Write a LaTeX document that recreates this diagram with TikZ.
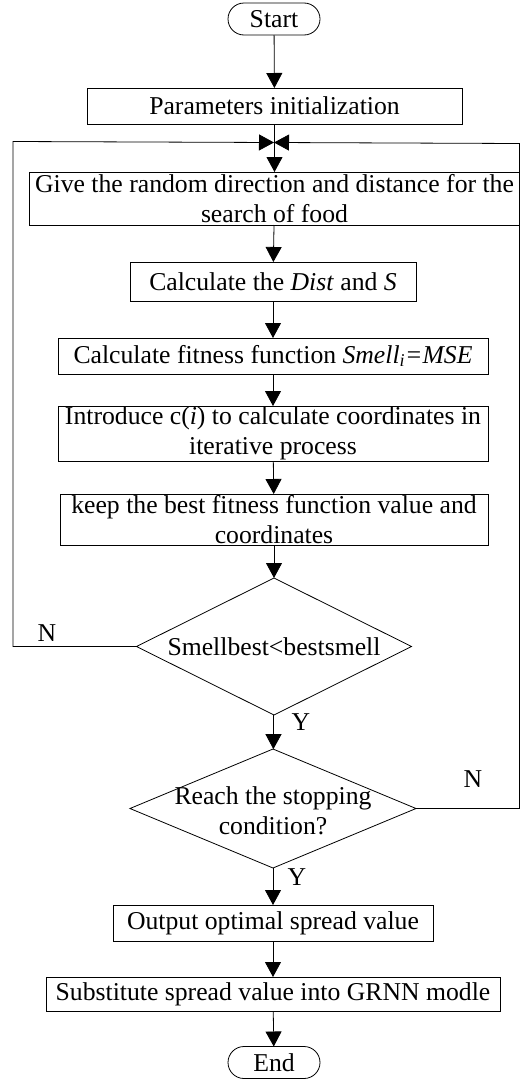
\documentclass[tikz,border=0pt]{standalone}
\usepackage{fontspec}
\setmainfont{Liberation Serif}
\usetikzlibrary{shapes.geometric,arrows.meta}

\tikzset{
  box/.style={draw,rectangle,inner sep=0pt,outer sep=0pt,align=center},
  term/.style={draw,rectangle,rounded corners=16pt,inner sep=0pt,outer sep=0pt,
    minimum width=92pt,minimum height=32pt},
  decision/.style={draw,diamond,inner sep=0pt,outer sep=0pt},
  arr/.style={-{Triangle[width=16pt,length=15pt]}}
}

\begin{document}
\begin{tikzpicture}[x=1pt,y=-1pt,line width=0.8pt,
    every node/.append style={font=\fontsize{25.7}{30}\selectfont}]
    \useasboundingbox (0,0) rectangle (520,1079);

    \node[term] (s) at (274,19) {Start};
    \node[box,minimum width=375pt,minimum height=36pt] (a) at (274.5,106) {Parameters initialization};
    \node[box,minimum width=490pt,minimum height=53pt] (b) at (274.5,198.5)
      {Give the random direction and distance for the\\search of food};
    \node[box,minimum width=286pt,minimum height=39pt] (c) at (273,281.5)
      {Calculate the \textit{Dist} and \textit{S}};
    \node[box,minimum width=430pt,minimum height=36pt] (d) at (273,356)
      {Calculate fitness function \textit{Smell\textsubscript{i}=MSE}};
    \node[box,minimum width=430pt,minimum height=55pt] (e) at (273,433.5)
      {Introduce c(\textit{i}) to calculate coordinates in\\iterative process};
    \node[box,minimum width=428pt,minimum height=51pt] (f) at (274,519.5)
      {keep the best fitness function value and\\coordinates};

    \node[decision,minimum width=275pt,minimum height=137pt] (g) at (274,646.5) {};
    \node (gt) at (g) {Smellbest<bestsmell};
    \node[decision,minimum width=286pt,minimum height=119pt] (h) at (273,808.5) {};
    \node[align=center] (ht) at (273,811) {Reach the stopping\\condition?};

    \node[box,minimum width=320pt,minimum height=36pt] (k) at (273,923)
      {Output optimal spread value};
    \node[box,minimum width=454pt,minimum height=34pt] (l) at (273,994)
      {Substitute spread value into GRNN modle};
    \node[term] (t) at (274,1062.5) {End};

    \coordinate (j) at (274,142.5);
    \coordinate (p1) at (13,646.5);
    \coordinate (p2) at (13,141.5);
    \coordinate (p3) at (519.5,808.5);
    \coordinate (p4) at (519.5,143.5);

    \draw[arr] (s) -- (a);
    \draw[arr] (a) -- (b);
    \draw[arr] (b) -- (c);
    \draw[arr] (c) -- (d);
    \draw[arr] (d) -- (e);
    \draw[arr] (e) -- (f);
    \draw[arr] (f) -- (g);
    \draw[arr] (g) -- (h);
    \draw[arr] (h) -- (k);
    \draw[arr] (k) -- (l);
    \draw[arr] (l) -- (t);

    % loops back
    \draw[arr] (g.west) -- (p1) -- (p2) -- (j);
    \draw[arr] (h.east) -- (p3) -- (p4) -- (j);

    \node (n1) at (47,633) {N};
    \node (y1) at (301,722) {Y};
    \node (n2) at (473,779) {N};
    \node (y2) at (297,877) {Y};
\end{tikzpicture}
\end{document}
